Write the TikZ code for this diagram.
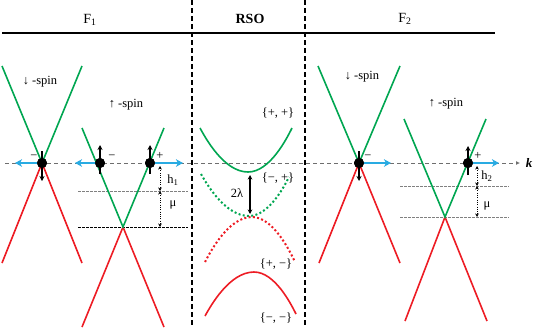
\documentclass[tikz,border=0pt]{standalone}
\usepackage{fontspec}
\setmainfont{Liberation Serif}
\usetikzlibrary{calc,arrows.meta}
\definecolor{bgreen}{RGB}{0,166,81}
\definecolor{bred}{RGB}{237,28,36}
\definecolor{bcyan}{RGB}{41,171,226}
\definecolor{axgray}{RGB}{110,110,110}
\begin{document}
\begin{tikzpicture}[x=1pt,y=-1pt,
  grn/.style={draw=bgreen,line width=1.6pt},
  rd/.style={draw=bred,line width=1.6pt},
  grndot/.style={draw=bgreen,line width=2pt,dash pattern=on 2pt off 2.3pt},
  rddot/.style={draw=bred,line width=2pt,dash pattern=on 2pt off 2.3pt},
  vdash/.style={draw=black,line width=1.4pt,dash pattern=on 5pt off 3pt},
  axisline/.style={draw=axgray,line width=1pt,dash pattern=on 4pt off 3pt,-{Latex[length=4pt,width=4pt]}},
  spindot/.style={circle,fill=black,inner sep=0pt,minimum size=10pt},
  spinarr/.style={draw=black,line width=1.2pt,-{Stealth[length=5pt,width=5pt]}},
  cyanarr/.style={draw=bcyan,line width=1.8pt,-{Stealth[length=7pt,width=7.5pt,inset=2pt]}},
  levelg/.style={draw=gray,line width=0.5pt,dash pattern=on 2.5pt off 1.5pt},
  levelb/.style={draw=black,line width=0.5pt,dash pattern=on 2.5pt off 1.5pt},
  gaparr/.style={draw=black,line width=1pt,dash pattern=on 1pt off 1.3pt,{Stealth[length=3.5pt,width=3.5pt]}-{Stealth[length=3.5pt,width=3.5pt]}},
  lamarr/.style={draw=black,line width=1.1pt,{Stealth[length=4.5pt,width=4.5pt]}-{Stealth[length=4.5pt,width=4.5pt]}},
  lbl/.style={font=\fontsize{12.5}{14}\selectfont,inner sep=0pt},
  hdr/.style={font=\fontsize{14}{16}\selectfont,inner sep=0pt}
]
\useasboundingbox (0,0) rectangle (545,327);

% header
\coordinate (hl) at (2,33);
\coordinate (hr) at (495,33);
\draw[line width=1.3pt] (hl) -- (hr);
\node[hdr] (tF1) at (90,20) {F\textsubscript{1}};
\node[hdr,font=\fontsize{14}{16}\selectfont\bfseries] (tRSO) at (250,19) {RSO};
\node[hdr] (tF2) at (405,19) {F\textsubscript{2}};

% region separators
\coordinate (v1t) at (192,0); \coordinate (v1b) at (192,327);
\coordinate (v2t) at (305,0); \coordinate (v2b) at (305,327);
\draw[vdash] (v1t) -- (v1b);
\draw[vdash] (v2t) -- (v2b);

% ---------- F1 ----------
\coordinate (A) at (42,163);
\coordinate (Agl) at (2,66); \coordinate (Agr) at (82,66);
\coordinate (Arl) at (2,263); \coordinate (Arr) at (82,263);
\draw[rd] (Arl) -- (A) -- (Arr);
\draw[grn] (Agl) -- (A) -- (Agr);

\coordinate (B) at (123,227);
\coordinate (Bgl) at (82,128); \coordinate (Bgr) at (164,128);
\coordinate (Brl) at (82,327); \coordinate (Brr) at (164,327);

% levels F1
\coordinate (L1a) at (78,191); \coordinate (L1b) at (188,191);
\coordinate (L2a) at (78,227); \coordinate (L2b) at (188,227);
\draw[levelg] (L1a) -- (L1b);
\draw[levelb] (L2a) -- (L2b);

\draw[rd] (Brl) -- (B) -- (Brr);
\draw[grn] (Bgl) -- (B) -- (Bgr);

% ---------- F2 ----------
\coordinate (C) at (359,163);
\coordinate (Cgl) at (318,66); \coordinate (Cgr) at (400,66);
\coordinate (Crl) at (319,263); \coordinate (Crr) at (400,263);
\draw[rd] (Crl) -- (C) -- (Crr);
\draw[grn] (Cgl) -- (C) -- (Cgr);

\coordinate (D) at (445,217);
\coordinate (Dgl) at (404,119); \coordinate (Dgr) at (486,119);
\coordinate (Drl) at (405,321); \coordinate (Drr) at (487,321);
\coordinate (M1a) at (400,186); \coordinate (M1b) at (509,186);
\coordinate (M2a) at (400,217); \coordinate (M2b) at (509,217);
\draw[levelg] (M1a) -- (M1b);
\draw[levelg] (M2a) -- (M2b);
\draw[rd] (Drl) -- (D) -- (Drr);
\draw[grn] (Dgl) -- (D) -- (Dgr);

% ---------- axis ----------
\coordinate (ax0) at (5,163);
\coordinate (ax1) at (520,163);
\draw[axisline] (ax0) -- (ax1);
\node[font=\fontsize{13}{15}\selectfont\bfseries\itshape,inner sep=0pt] (kk) at (529,163) {k};

% ---------- RSO bands ----------
\coordinate (P1a) at (200,128); \coordinate (P1m) at (248,172); \coordinate (P1b) at (292,128);
\draw[grn] (P1a) parabola bend (P1m) (P1b);
\coordinate (P2a) at (201,174); \coordinate (P2m) at (249,216); \coordinate (P2b) at (289,177);
\draw[grndot] (P2a) parabola bend (P2m) (P2b);
\coordinate (P3a) at (205,262); \coordinate (P3m) at (252,217); \coordinate (P3b) at (295,262);
\draw[rddot] (P3a) parabola bend (P3m) (P3b);
\coordinate (P4a) at (205,316); \coordinate (P4m) at (254,272); \coordinate (P4b) at (296,314);
\draw[rd] (P4a) parabola bend (P4m) (P4b);

\node[lbl] (lpp) at (278,113) {\{+, +\}};
\node[lbl] (lmp) at (278,178) {\{−, +\}};
\node[lbl] (lpm) at (276,264) {\{+, −\}};
\node[lbl] (lmm) at (276,318) {\{−, −\}};

\coordinate (lam1) at (250,175); \coordinate (lam2) at (250,214);
\draw[lamarr] (lam1) -- (lam2);
\node[lbl] (l2l) at (237,193) {2λ};

% ---------- spin dots and arrows ----------
\node[spindot] (dA) at (42,163) {};
\node[spindot] (dB1) at (100,163) {};
\node[spindot] (dB2) at (150,163) {};
\node[spindot] (dC) at (359,163) {};
\node[spindot] (dD) at (468,163) {};

\coordinate (cA) at (15,163);
\coordinate (cB1) at (75,163);
\coordinate (cB2) at (183,163);
\coordinate (cC) at (391,163);
\coordinate (cD) at (499,163);
\draw[cyanarr] (dA.center) -- (cA);
\draw[cyanarr] (dB1.center) -- (cB1);
\draw[cyanarr] (dB2.center) -- (cB2);
\draw[cyanarr] (dC.center) -- (cC);
\draw[cyanarr] (dD.center) -- (cD);
\node[spindot] at (dA) {};
\node[spindot] at (dB1) {};
\node[spindot] at (dB2) {};
\node[spindot] at (dC) {};
\node[spindot] at (dD) {};

\draw[spinarr] ($(dA)+(0,-12)$) -- ($(dA)+(0,18)$);
\draw[spinarr] ($(dB1)+(0,11)$) -- ($(dB1)+(0,-18)$);
\draw[spinarr] ($(dB2)+(0,11)$) -- ($(dB2)+(0,-18)$);
\draw[spinarr] ($(dC)+(0,-12)$) -- ($(dC)+(0,18)$);
\draw[spinarr] ($(dD)+(0,12)$) -- ($(dD)+(0,-17)$);

\node[lbl] (sA) at (34,157) {−};
\node[lbl] (sB1) at (112,157) {−};
\node[lbl] (sB2) at (160,156) {+};
\node[lbl] (sC) at (368,157) {−};
\node[lbl] (sD) at (478,156) {+};

% ---------- spin labels ----------
\node[lbl] (tdn1) at (40,82) {↓ -spin};
\node[lbl] (tup1) at (126,105) {↑ -spin};
\node[lbl] (tdn2) at (362,77) {↓ -spin};
\node[lbl] (tup2) at (446,104) {↑ -spin};

% ---------- gaps ----------
\coordinate (g1a) at (160,166); \coordinate (g1b) at (160,191);
\coordinate (g2b) at (160,227);
\draw[gaparr] (g1a) -- (g1b);
\draw[gaparr] (g1b) -- (g2b);
\node[lbl] (h1) at (173,180) {h\textsubscript{1}};
\node[lbl] (mu1) at (173,205) {μ};

\coordinate (g3a) at (477,166); \coordinate (g3b) at (477,186);
\coordinate (g4b) at (477,217);
\draw[gaparr] (g3a) -- (g3b);
\draw[gaparr] (g3b) -- (g4b);
\node[lbl] (h2) at (487,176) {h\textsubscript{2}};
\node[lbl] (mu2) at (487,206) {μ};
\end{tikzpicture}
\end{document}
